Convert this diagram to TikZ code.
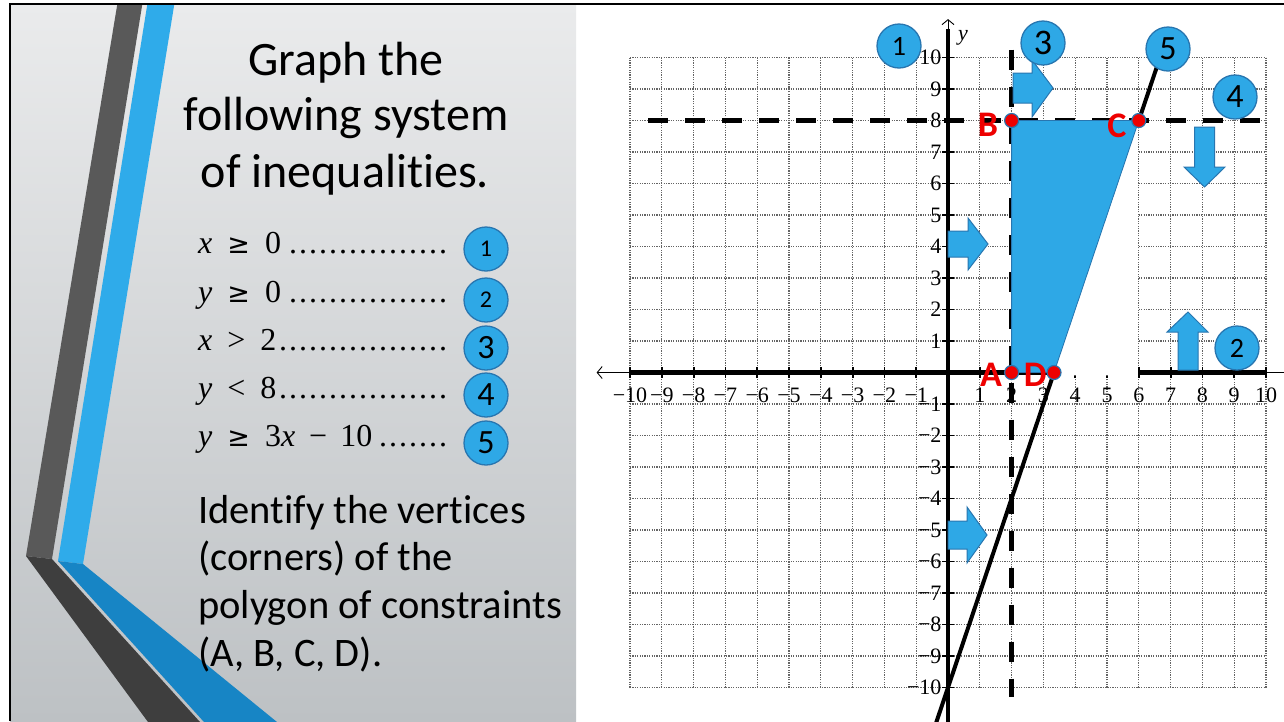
\documentclass[tikz,border=0pt]{standalone}
\usepackage{fontspec}
\setmainfont{Carlito}[Ligatures={NoCommon,NoContextual}]
\newfontfamily\axisfont{Liberation Serif}
\newfontfamily\symfont{DejaVu Sans}
\usetikzlibrary{arrows.meta}
\definecolor{cblue}{RGB}{46,168,230}
\definecolor{cedge}{RGB}{40,118,176}
\definecolor{dgray}{RGB}{89,89,89}
\definecolor{dgrayl}{RGB}{62,62,62}
\definecolor{sblue}{RGB}{47,171,234}
\definecolor{sbluel}{RGB}{23,133,197}
\definecolor{ptred}{RGB}{238,0,0}
\definecolor{ptop}{RGB}{234,235,236}
\definecolor{pbot}{RGB}{189,193,196}
\definecolor{gridc}{RGB}{100,100,100}
\newcommand\leaderdots{\leaders\hbox to 10pt{\hss.\hss}\hfill}
\newcommand\igap{\hspace{15pt}}
\newcommand\geqs{{\symfont\fontsize{27}{27}\selectfont ≥}}
\begin{document}
\begin{tikzpicture}[x=1pt, y=-1pt,
 circ/.style={circle, fill=cblue, draw=cedge, line width=1.3pt, minimum size=44pt, inner sep=0pt},
 smalld/.style={font=\fontsize{24}{24}\selectfont},
 bigd/.style={font=\fontsize{34}{34}\selectfont},
 head/.style={anchor=base, inner sep=0pt, font=\fontsize{48}{48}\selectfont},
 body/.style={anchor=base west, inner sep=0pt, font=\fontsize{40.5}{40}\selectfont},
 ineq/.style={anchor=base west, inner sep=0pt, font=\axisfont\fontsize{32}{32}\selectfont},
 barrow/.style={fill=cblue, draw=cedge, line width=1pt, line join=miter},
 gridline/.style={draw=gridc, line width=1.2pt, dash pattern=on 1.2pt off 1.2pt},
 thickax/.style={line width=4.5pt},
 thinax/.style={line width=0.9pt},
 tickmk/.style={line width=1.8pt},
 dashln/.style={line width=4.5pt, dash pattern=on 20pt off 17pt},
 xlab/.style={font=\axisfont\fontsize{22}{22}\selectfont, inner sep=0pt},
 ptdot/.style={circle, fill=ptred, draw=cedge, line width=1.2pt, minimum size=14pt, inner sep=0pt},
 ptlab/.style={font=\bfseries\fontsize{36}{36}\selectfont, text=ptred, inner sep=0pt}]
\useasboundingbox (0,0) rectangle (1284,721);
\fill[white] (0,0) rectangle (1284,721);
% left panel
\shade[top color=ptop, bottom color=pbot] (10,4) rectangle (576,721);
\begin{scope}
 \clip (10,4) rectangle (576,721);
 \fill[dgray] (118,0) -- (143,0) -- (52,559) -- (26,556) -- cycle;
 \fill[dgrayl] (26,556) -- (52,559) -- (200,722) -- (148,722) -- cycle;
 \fill[sblue] (148,0) -- (175,0) -- (83,564) -- (58,561) -- cycle;
 \fill[sbluel] (58,561) -- (83,564) -- (277,722) -- (204,722) -- cycle;
\end{scope}
\draw[line width=2pt] (10,721) -- (10,4) -- (1284,4);
% heading
\node[head] (h1) at (346,75) {Graph the};
\node[head] (h2) at (346,130) {following system};
\node[head] (h3) at (345,187) {of inequalities.};
% inequalities
\node[ineq] (q1) at (198,253) {\makebox[250pt][l]{{\itshape x}\igap\geqs\igap0\leaderdots}};
\node[ineq] (q2) at (198,302) {\makebox[250pt][l]{{\itshape y}\igap\geqs\igap0\leaderdots}};
\node[ineq] (q3) at (198,350) {\makebox[250pt][l]{{\itshape x}\igap>\igap2\leaderdots}};
\node[ineq] (q4) at (198,398) {\makebox[250pt][l]{{\itshape y}\igap<\igap8\leaderdots}};
\node[ineq] (q5) at (198,446) {\makebox[250pt][l]{{\itshape y}\igap\geqs\igap3{\itshape x}\hspace{14pt}−\hspace{13pt}10\leaderdots}};
\node[circ, smalld] (k1) at (486,249) {1};
\node[circ, smalld] (k2) at (486,300) {2};
\node[circ, bigd] (k3) at (486,348) {3};
\node[circ, bigd] (k4) at (486,395) {4};
\node[circ, bigd] (k5) at (486,443) {5};
% lower text
\node[body] (b1) at (198,523) {Identify the vertices};
\node[body] (b2) at (198,570) {(corners) of the};
\node[body] (b3) at (198,618) {polygon of constraints};
\node[body] (b4) at (198,666) {(A, B, C, D).};
% graph
\begin{scope}[shift={(948,372.5)}, x=31.8pt, y=31.5pt]
 \draw[gridline, step=1] (-10,-10) grid (10,10);
 \coordinate (xl) at (-11.05,0); \coordinate (xa) at (-10,0);
 \coordinate (xb) at (10,0); \coordinate (xr) at (10.8,0);
 \draw[thinax, -{Straight Barb[length=5pt,width=12pt]}] (xa) -- (xl);
 \draw[thinax] (xb) -- (xr);
 \draw[thickax] (xa) -- (xb);
 \coordinate (yt) at (0,11.22); \coordinate (ya) at (0,10.92); \coordinate (yb) at (0,-11.2);
 \draw[thinax, -{Straight Barb[length=5pt,width=12pt]}] (ya) -- (yt);
 \draw[thickax] (ya) -- (yb);
 \foreach \i in {-10,...,10} {
  \draw[tickmk] (\i,-0.16) -- (\i,0.16);
  \draw[tickmk] (-0.18,\i) -- (0.18,\i);
 }
 \foreach \i in {1,...,10} {
  \node[xlab] (xp\i) at (\i,-0.72) {\i};
  \node[xlab] (xn\i) at (-\i,-0.72) {−\i};
  \node[xlab, anchor=east] (yp\i) at (-0.2,\i) {\i};
  \node[xlab, anchor=east] (yn\i) at (-0.2,-\i) {−\i};
 }
 \coordinate (h1) at (-9.43,8); \coordinate (h2) at (9.9,8);
 \draw[dashln] (h1) -- (h2);
 \coordinate (v1) at (2,10.25); \coordinate (v2) at (2,-10.3);
 \draw[dashln] (v1) -- (v2);
 \coordinate (s1) at (-0.4,-11.2); \coordinate (s2) at (6.85,10.55);
 \draw[line width=4pt] (s1) -- (s2);
 \coordinate (A) at (2,0); \coordinate (B) at (2,8);
 \coordinate (C) at (6,8); \coordinate (D) at (10/3,0);
 \fill[white] (3.3,-0.09) -- (5.97,-0.09) -- (5.97,7.98) -- (C) -- cycle;
 \filldraw[fill=cblue, draw=cedge, line width=0.8pt] (A) -- (B) -- (C) -- (D) -- cycle;
 \node[ptdot] (dA) at (A) {};
 \node[ptdot] (dB) at (B) {};
 \node[ptdot] (dC) at (C) {};
 \node[ptdot] (dD) at (D) {};
 \node[ptlab] (lA) at (1.35,-0.06) {A};
 \node[ptlab] (lD) at (2.74,-0.08) {D};
 \node[ptlab] (lB) at (1.26,7.86) {B};
 \node[ptlab] (lC) at (5.31,7.84) {C};
\end{scope}
\node[font=\axisfont\itshape\fontsize{22}{22}\selectfont, inner sep=0pt] (ylab) at (963,38) {y};
% block arrows
\filldraw[barrow] (948,231) -- (968,231) -- (968,218) -- (988,244) -- (968,270) -- (968,257) -- (948,257) -- cycle;
\filldraw[barrow] (948,521) -- (967,521) -- (967,507) -- (987,535) -- (967,563) -- (967,549) -- (948,549) -- cycle;
\filldraw[barrow] (1013,73) -- (1032,73) -- (1032,60) -- (1053,88) -- (1032,117) -- (1032,103) -- (1013,103) -- cycle;
\filldraw[barrow] (1194.5,127) -- (1214.5,127) -- (1214.5,167) -- (1225,167) -- (1204.5,187) -- (1184,167) -- (1194.5,167) -- cycle;
\filldraw[barrow] (1178,370) -- (1198,370) -- (1198,332) -- (1208,332) -- (1188,312) -- (1167,332) -- (1178,332) -- cycle;
% graph circles
\node[circ, font=\fontsize{28}{28}\selectfont] (g1) at (899,46) {1};
\node[circ, font=\fontsize{36}{36}\selectfont] (g3) at (1043,43) {3};
\node[circ, bigd] (g5) at (1168,49) {5};
\node[circ, bigd] (g4) at (1235,97) {4};
\node[circ, font=\fontsize{28}{28}\selectfont] (g2) at (1237,348) {2};
\end{tikzpicture}
\end{document}
